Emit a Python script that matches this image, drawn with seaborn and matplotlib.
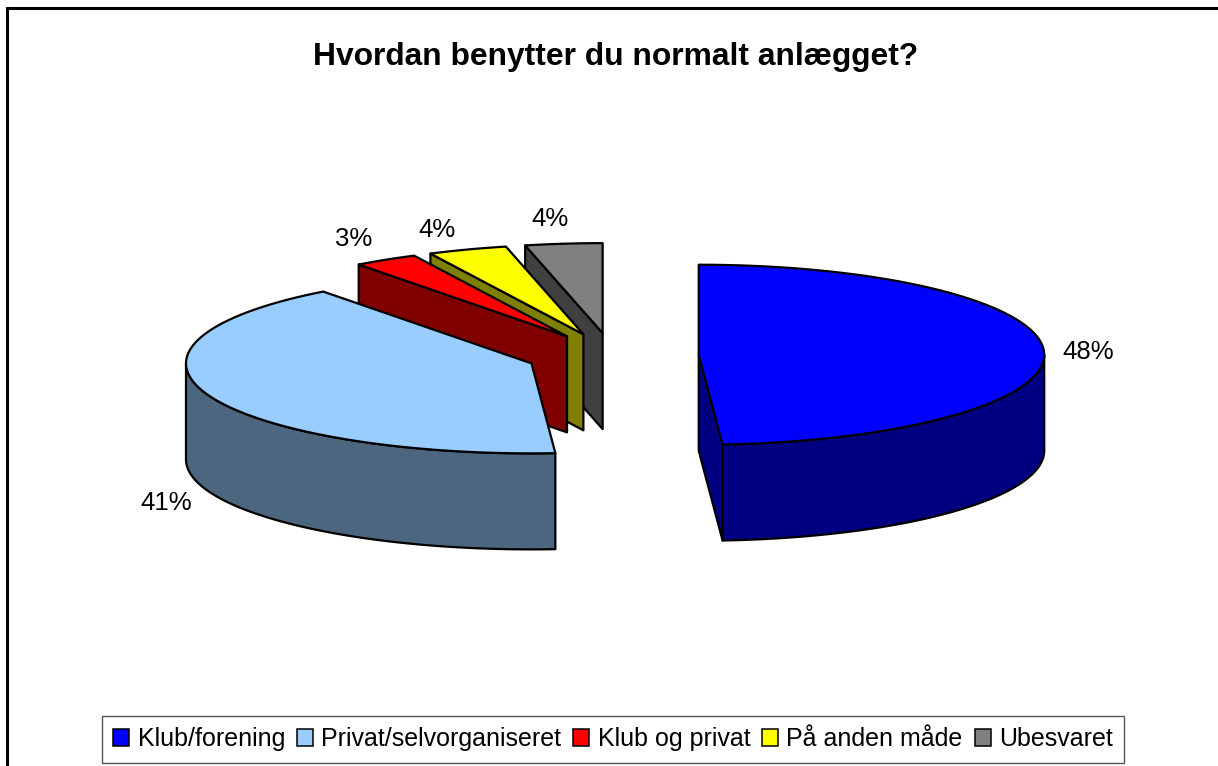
import numpy as np
import matplotlib
matplotlib.use('Agg')
import matplotlib.pyplot as plt
from matplotlib.patches import Polygon, Patch
import seaborn as sns

title = 'Hvordan benytter du normalt anlægget?'
categories = ['Klub/forening', 'Privat/selvorganiseret', 'Klub og privat', 'På anden måde', 'Ubesvaret']
# shares, labels as printed on the chart
shares = [48.9, 40.8, 3.0, 3.7, 3.6]
pct_labels = ['48%', '41%', '3%', '4%', '4%']
slice_colors = ['#0000FF', '#99CCFF', '#FF0000', '#FFFF00', '#808080']

sns.set_theme(style='white')
plt.rcParams['font.family'] = ['Liberation Sans', 'DejaVu Sans']
plt.rcParams['text.color'] = 'black'

# pie geometry in picture pixels
cx, cy = 612.4, 355.5
rx, ry = 345.5, 90
depth = 96
explode = 0.25
line_w = 1.6

palette = sns.color_palette(slice_colors)
dark = [tuple(c / 2 for c in col) for col in palette]

fig = plt.figure(figsize=(12.18, 7.66), dpi=100)
ax = fig.add_axes([0, 0, 1, 1])
ax.set_xlim(0, 1218)
ax.set_ylim(766, 0)
ax.axis('off')

ax.plot([7, 7, 1218], [766, 8, 8], color='black', lw=2.2, solid_joinstyle='miter')

edges = np.concatenate([[0], np.cumsum(shares)]) / sum(shares) * 2 * np.pi


def point(c, t):
    return np.array([c[0] + rx * np.sin(t), c[1] - ry * np.cos(t)])


def face(pts, col, z):
    ax.add_patch(Polygon(pts, closed=True, facecolor=col, edgecolor='black',
                         lw=line_w, joinstyle='round', zorder=z))


def draw_slice(i, z):
    t0, t1 = edges[i], edges[i + 1]
    mid = (t0 + t1) / 2
    c = (cx + explode * rx * np.sin(mid), cy - explode * ry * np.cos(mid))
    down = np.array([0, depth])
    ts = np.linspace(t0, t1, 80)
    arc = np.array([point(c, t) for t in ts])
    c_top = np.array(c)

    # cut faces that look toward the viewer
    if i == 0:
        p = point(c, t1)
        face([c_top, p, p + down, c_top + down], dark[i], z)
    elif i >= 2:
        p = point(c, t0)
        face([p, c_top, c_top + down, p + down], dark[i], z)

    # outer wall on the front half of the pie
    lo, hi = max(t0, np.pi / 2), min(t1, 3 * np.pi / 2)
    if lo < hi:
        wall = np.array([point(c, t) for t in np.linspace(lo, hi, 80)])
        face(np.vstack([wall, (wall + down)[::-1]]), dark[i], z + 0.1)

    face(np.vstack([c_top, arc]), palette[i], z + 0.2)


# back to front
for i, z in zip([4, 3, 2, 1, 0], [1, 2, 3, 4, 5]):
    draw_slice(i, z)

ax.text(615.5, 57, title, ha='center', va='center', fontsize=22.9, fontweight='bold')

label_xy = [(1088, 352), (166, 503), (354, 239), (437, 230), (550, 219)]
for txt, (x, y) in zip(pct_labels, label_xy):
    ax.text(x, y, txt, ha='center', va='center', fontsize=18.5)

handles = [Patch(facecolor=palette[i], edgecolor='black', lw=1.1, label=categories[i]) for i in range(5)]
leg = ax.legend(handles=handles, ncol=5, loc='lower center', bbox_to_anchor=(613, 763),
                bbox_transform=ax.transData, frameon=True, fancybox=False, fontsize=18.0,
                edgecolor='#555555', framealpha=1, handlelength=0.64, handleheight=0.64,
                handletextpad=0.33, columnspacing=0.48, borderpad=0.47, borderaxespad=0)
leg.get_frame().set_linewidth(1.0)

plt.savefig('out.png', dpi=100)
